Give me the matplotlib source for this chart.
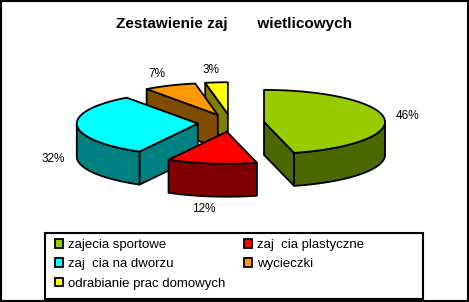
import numpy as np
import matplotlib.pyplot as plt
from matplotlib.patches import Polygon, Rectangle, Patch

plt.rcParams['font.family'] = ['Liberation Sans', 'DejaVu Sans']

# chart data (polish letters are missing in the original, kept as gaps)
title = 'Zestawienie zaj       wietlicowych'
names = ['zajecia sportowe', 'zaj  cia plastyczne', 'zaj  cia na dworzu',
         'wycieczki', 'odrabianie prac domowych']
values = [46, 12, 32, 7, 3]
top_colors = ['#99CC00', '#FF0000', '#00FFFF', '#FF9900', '#FFFF00']
side_colors = ['#4C6600', '#800000', '#008080', '#804C00', '#808000']

W, H = 469, 302
fig = plt.figure(figsize=(W / 100, H / 100), dpi=100)
ax = fig.add_axes([0, 0, 1, 1])
ax.set_xlim(0, W)
ax.set_ylim(H, 0)
ax.axis('off')

# pie geometry in pixels
cx, cy = 231, 123
rx, ry = 121, 32
depth = 33
explode = 0.275


def pt(ox, oy, t, r=1.0):
    t = np.radians(t)
    return ox + rx * r * np.sin(t), oy - ry * r * np.cos(t)


total = sum(values)
bounds = np.concatenate([[0], np.cumsum(values)]) * 360.0 / total
slices = []
for i, v in enumerate(values):
    a, b = bounds[i], bounds[i + 1]
    m = (a + b) / 2
    ox, oy = pt(cx, cy, m, explode)
    slices.append((oy, i, a, b, m, ox))

edge = dict(edgecolor='black', linewidth=1.3, joinstyle='round')
for oy, i, a, b, m, ox in sorted(slices):
    # radial walls that face the viewer
    for ang, nrm in ((a, a - 90), (b, b + 90)):
        if np.cos(np.radians(nrm)) < -0.01:
            x1, y1 = pt(ox, oy, ang)
            poly = [(ox, oy), (x1, y1), (x1, y1 + depth), (ox, oy + depth)]
            ax.add_patch(Polygon(poly, facecolor=side_colors[i], **edge))
    # outer curved wall (front half only)
    lo, hi = max(a, 90), min(b, 270)
    if hi > lo:
        t = np.linspace(lo, hi, 60)
        xs, ys = pt(ox, oy, t)
        poly = list(zip(xs, ys)) + list(zip(xs[::-1], ys[::-1] + depth))
        ax.add_patch(Polygon(poly, facecolor=side_colors[i], **edge))
    # top face
    t = np.linspace(a, b, 80)
    xs, ys = pt(ox, oy, t)
    poly = [(ox, oy)] + list(zip(xs, ys))
    ax.add_patch(Polygon(poly, facecolor=top_colors[i], **edge))
    # percent label
    s, c = np.sin(np.radians(m)), np.cos(np.radians(m))
    ly = oy - ry * 1.4 * c + (depth if c < 0 else 0)
    if s > 0.3:
        lx, ha = ox + rx * 1.1 * s, 'left'
    elif s < -0.3:
        lx, ha = ox + rx * 1.1 * s, 'right'
    else:
        lx, ha = ox + rx * 1.5 * s, 'center'
    ax.text(lx, ly, f'{values[i]}%', ha=ha, va='center', fontsize=8.5)

ax.text(234, 28, title, ha='center', va='baseline', fontsize=11,
        fontweight='bold')

# legend, filled row by row like the original
order = [0, 2, 4, 1, 3]
handles = [Patch(facecolor=top_colors[i], edgecolor='black', linewidth=1.3,
                 label=names[i]) for i in order]
ax.legend(handles=handles, ncol=2, loc='upper left',
          bbox_to_anchor=(55, 239), bbox_transform=ax.transData,
          frameon=False, fontsize=9.5, handlelength=0.6, handleheight=0.6,
          handletextpad=0.4, columnspacing=1.4, labelspacing=0.55,
          borderpad=0, borderaxespad=0)
ax.add_patch(Rectangle((45, 233), 378, 66, fill=False, edgecolor='black',
                       linewidth=1.5))

# outer frame of the chart
ax.add_patch(Rectangle((1, 1), W - 2, H - 2, fill=False, edgecolor='black',
                       linewidth=1.5, clip_on=False))

fig.savefig('out.png', dpi=100)
